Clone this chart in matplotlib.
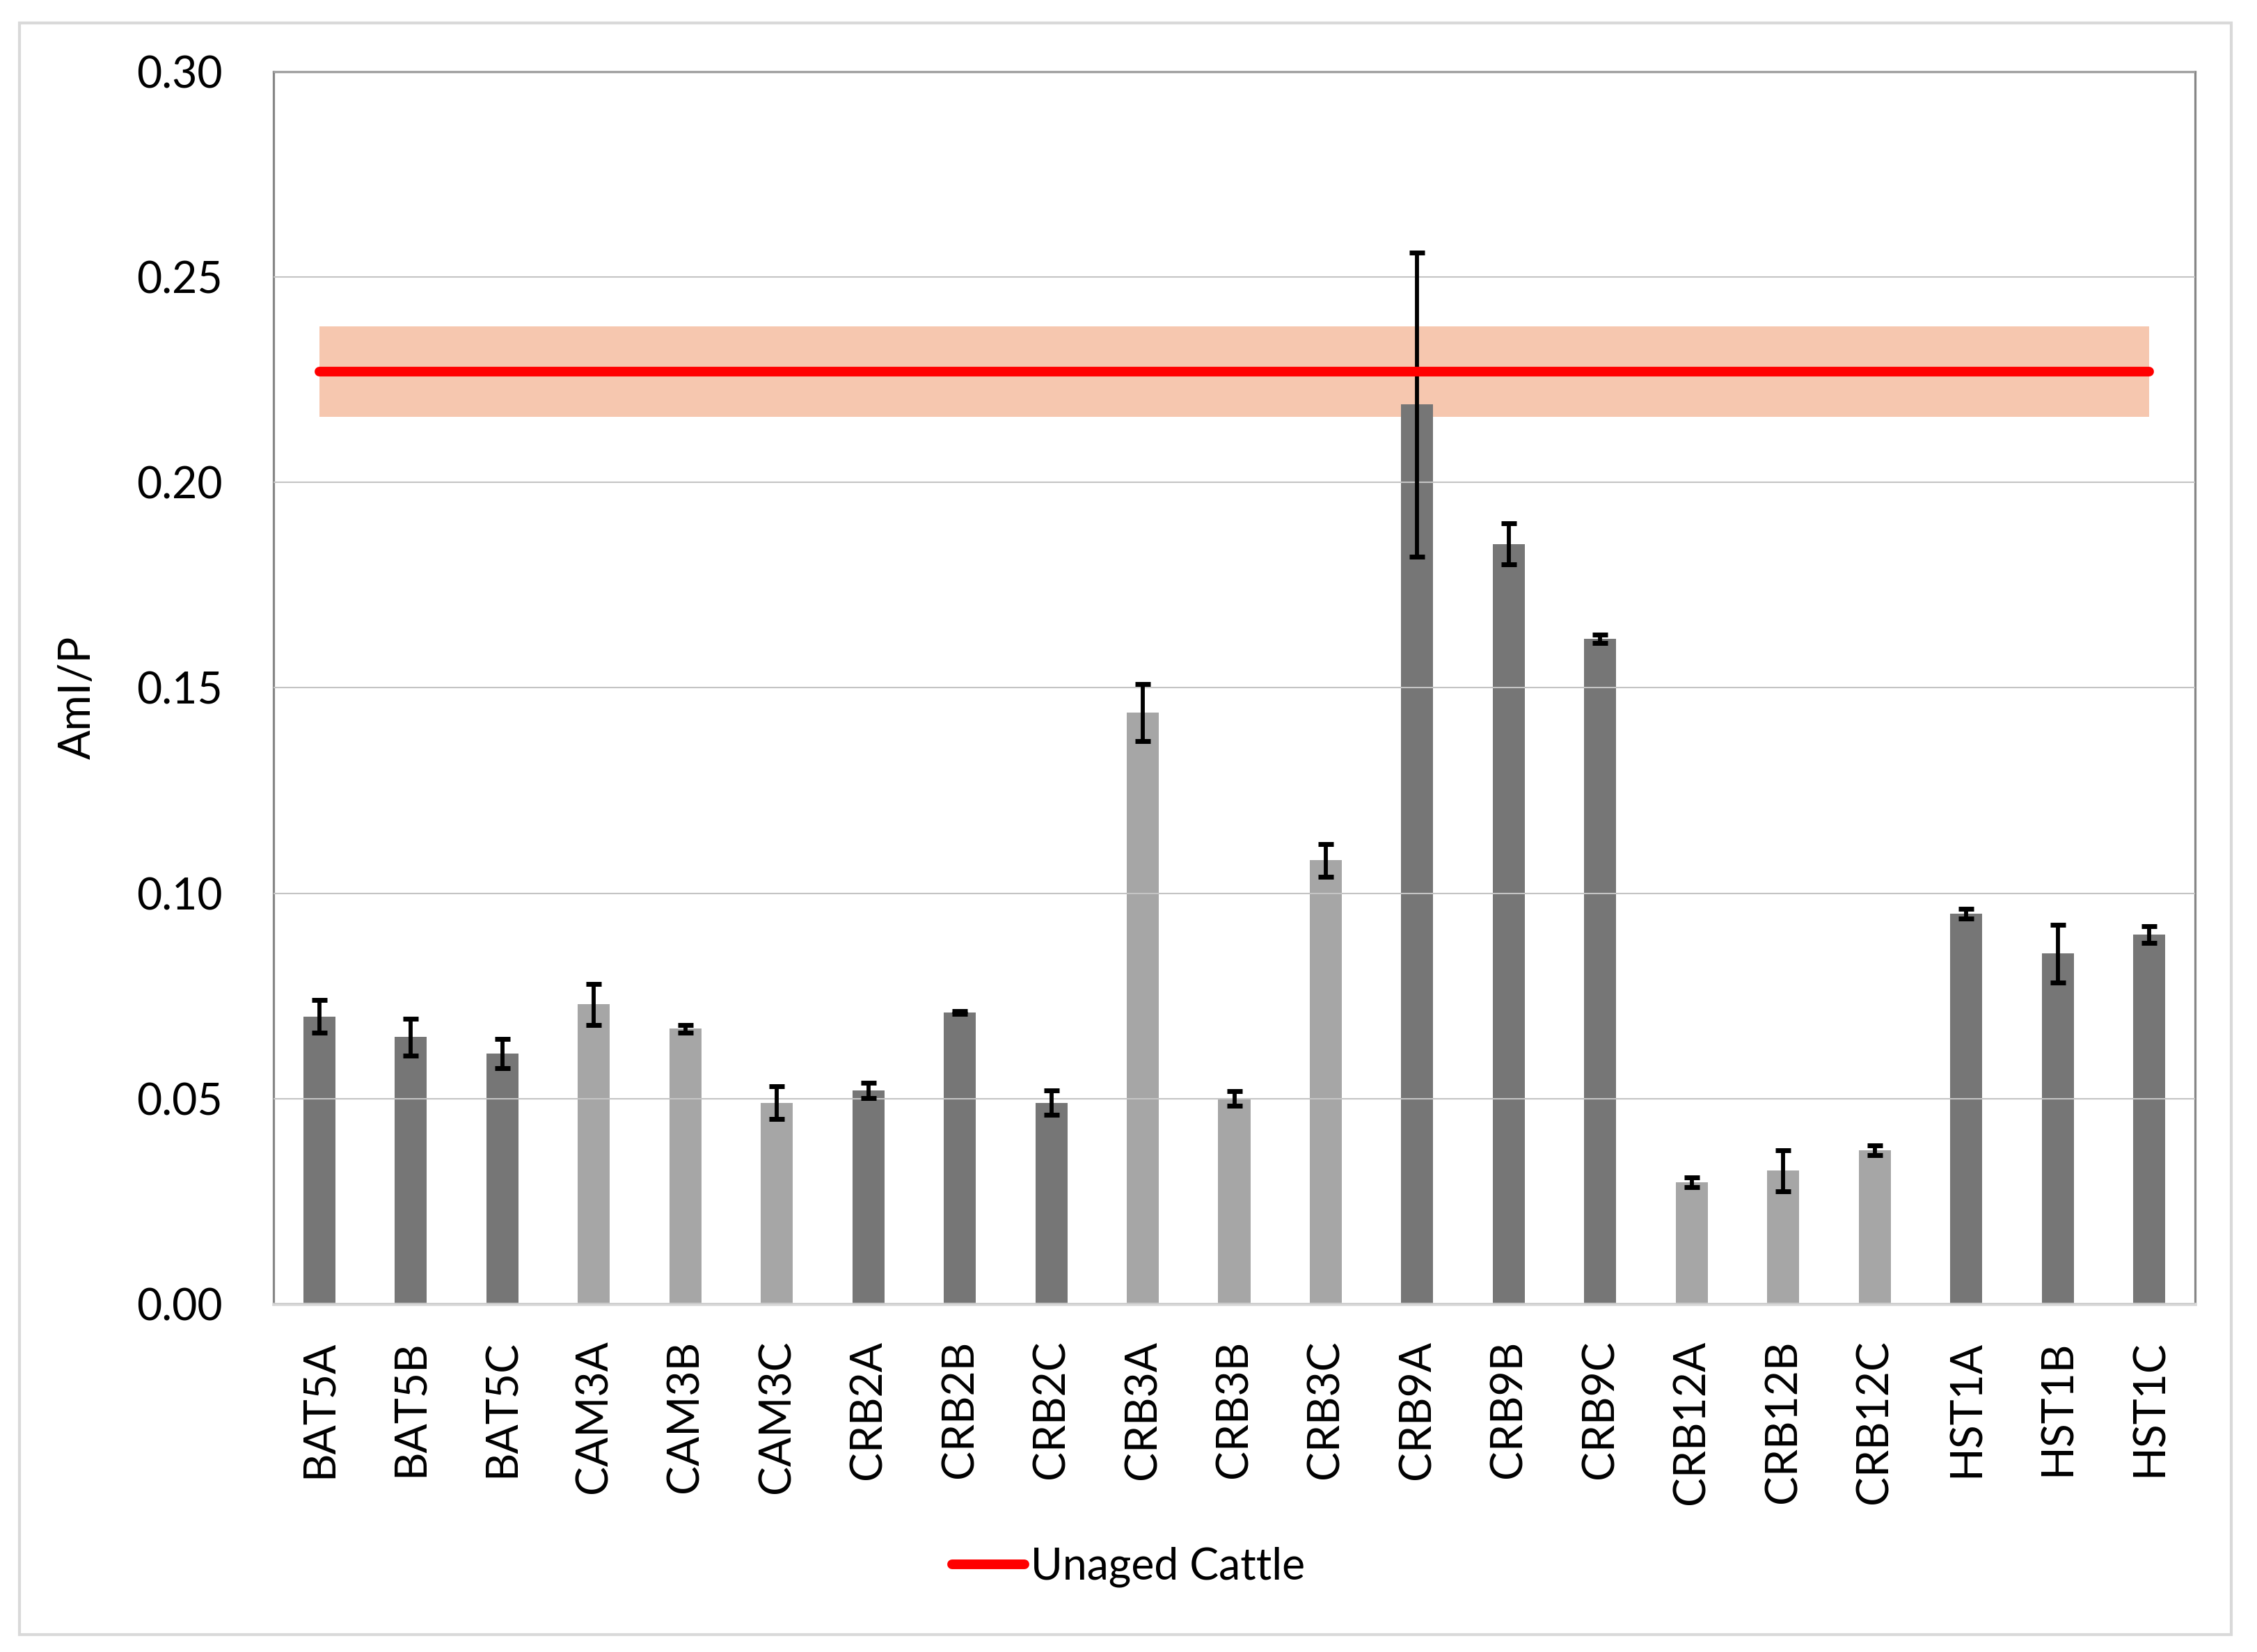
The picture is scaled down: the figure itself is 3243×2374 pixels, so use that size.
import matplotlib
matplotlib.use('Agg')
import matplotlib.pyplot as plt
from matplotlib.patches import Rectangle
from matplotlib.ticker import FormatStrFormatter
import numpy as np

categories = ['BAT5A', 'BAT5B', 'BAT5C', 'CAM3A', 'CAM3B', 'CAM3C',
              'CRB2A', 'CRB2B', 'CRB2C', 'CRB3A', 'CRB3B', 'CRB3C',
              'CRB9A', 'CRB9B', 'CRB9C', 'CRB12A', 'CRB12B', 'CRB12C',
              'HST1A', 'HST1B', 'HST1C']
values = [0.070, 0.065, 0.061, 0.073, 0.067, 0.049,
          0.052, 0.071, 0.049, 0.144, 0.050, 0.108,
          0.219, 0.185, 0.162, 0.0297, 0.0325, 0.0375,
          0.095, 0.0853, 0.090]
errors = [0.004, 0.0045, 0.0035, 0.005, 0.001, 0.004,
          0.0018, 0.0003, 0.003, 0.007, 0.0018, 0.004,
          0.037, 0.005, 0.001, 0.0012, 0.005, 0.0012,
          0.0012, 0.007, 0.002]
groups = ['dark', 'dark', 'dark', 'light', 'light', 'light',
          'dark', 'dark', 'dark', 'light', 'light', 'light',
          'dark', 'dark', 'dark', 'light', 'light', 'light',
          'dark', 'dark', 'dark']
unaged_mean = 0.227
unaged_sd = 0.011
yticks = [0.00, 0.05, 0.10, 0.15, 0.20, 0.25, 0.30]

plt.rcParams['font.family'] = ['Lato', 'DejaVu Sans']
FS = 45

W, H = 3243, 2374
fig = plt.figure(figsize=(W / 100, H / 100), dpi=100)
fig.patch.set_facecolor('white')

left, right, top, bottom = 393 / W, 3154 / W, 1 - 103 / H, 1 - 1874 / H
ax = fig.add_axes([left, bottom, right - left, top - bottom])

x = np.arange(len(categories))
colors = ['#767676' if g == 'dark' else '#A6A6A6' for g in groups]

ax.fill_between([x[0], x[-1]], unaged_mean - unaged_sd, unaged_mean + unaged_sd,
                color='#F6C7AF', linewidth=0, zorder=0.9)
ax.bar(x, values, width=0.35, color=colors, zorder=1)
ax.errorbar(x, values, yerr=errors, fmt='none', ecolor='black',
            elinewidth=4.2, capsize=8, capthick=5, zorder=3)
line, = ax.plot([x[0], x[-1]], [unaged_mean, unaged_mean], color='#FF0000',
                lw=10, solid_capstyle='round', zorder=4, label='Unaged Cattle')

ax.set_xlim(-0.5, len(categories) - 0.5)
ax.set_ylim(0, 0.30)
ax.set_yticks(yticks)
ax.yaxis.set_major_formatter(FormatStrFormatter('%.2f'))
ax.set_xticks(x)
ax.set_xticklabels(categories, rotation=90, fontsize=FS)
ax.tick_params(axis='y', length=0, pad=53, labelsize=FS)
ax.tick_params(axis='x', length=0, pad=37)

ax.set_axisbelow(False)
ax.yaxis.grid(True, color='#C4C4C4', linewidth=1.5)
ax.xaxis.grid(False)

for s in ['left', 'top', 'right']:
    ax.spines[s].set_color('#878787')
    ax.spines[s].set_linewidth(2.3)
ax.spines['bottom'].set_color('#D9D9D9')
ax.spines['bottom'].set_linewidth(3.3)

fig.text(112 / W, 1 - 1002 / H, 'AmI/P', rotation=90, ha='center', va='center',
         fontsize=FS)

fig.legend(handles=[line], loc='center', bbox_to_anchor=(0.5, 1 - 2252 / H),
           frameon=False, fontsize=FS, handlelength=1.66, handletextpad=0.15)

border = Rectangle((28 / W, 1 - 2349 / H), (3206 - 28) / W, (2349 - 33) / H,
                   transform=fig.transFigure, fill=False, edgecolor='#D9D9D9',
                   linewidth=3)
fig.patches.append(border)

fig.savefig('out.png', dpi=100)
